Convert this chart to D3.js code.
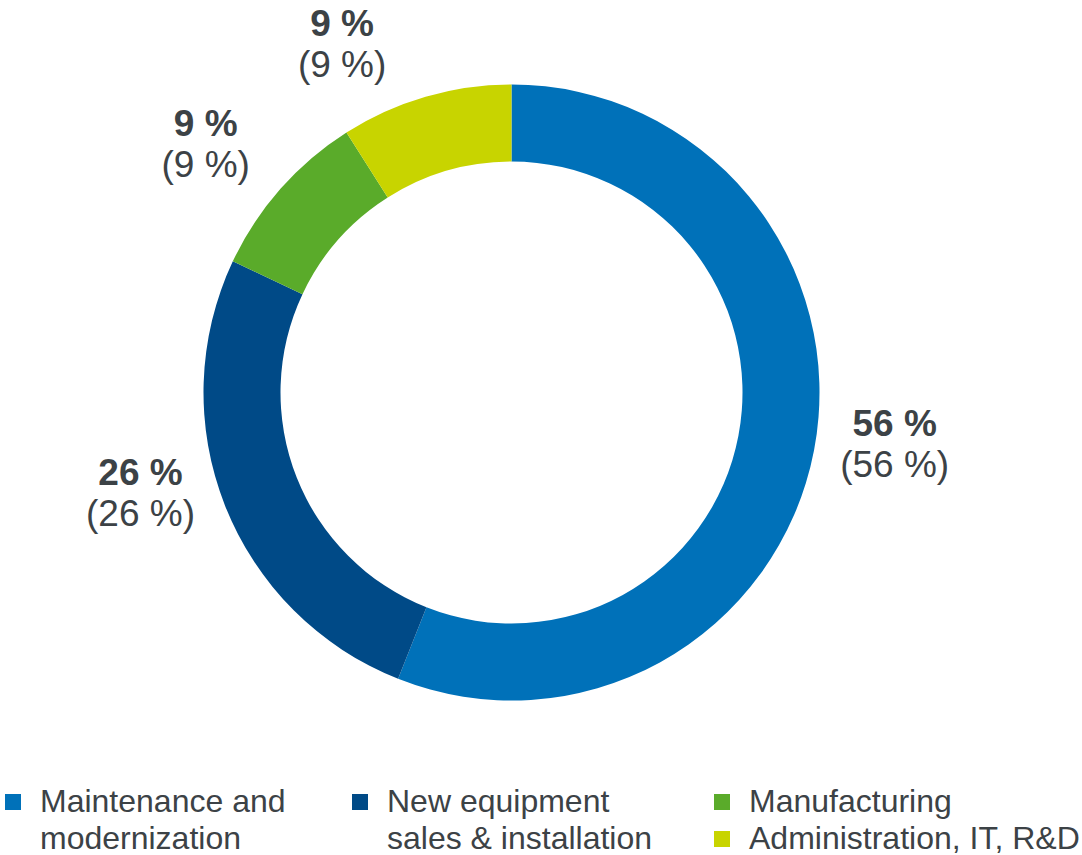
<!DOCTYPE html>
<html>
<head>
<meta charset="utf-8">
<script src="https://cdn.jsdelivr.net/npm/d3@7/dist/d3.min.js"></script>
<style>
  html, body { margin: 0; padding: 0; background: #fff; }
  svg { display: block; font-family: "Liberation Sans", Arial, sans-serif; }
</style>
</head>
<body>
<svg id="chart" width="1082" height="855"></svg>
<script>
// ---- data ----
const categories = ["Maintenance and modernization", "New equipment sales & installation", "Manufacturing", "Administration, IT, R&D"];
const values = [56, 26, 9, 9];
const previousValues = [56, 26, 9, 9];
const colors = ["#0071b9", "#004a87", "#5aab2a", "#c8d400"];
const legendLines = [["Maintenance and", "modernization"], ["New equipment", "sales & installation"], ["Manufacturing"], ["Administration, IT, R&D"]];

// ---- layout ----
const W = 1082, H = 855;
const cx = 511.5, cy = 392.5;
const outerR = 308, innerR = 231;
const textColor = "#3c4246";

const svg = d3.select("#chart");
const g = svg.append("g").attr("transform", `translate(${cx},${cy})`);

const pie = d3.pie().sort(null).value(d => d)(values);
const arc = d3.arc().innerRadius(innerR).outerRadius(outerR);

g.selectAll("path.slice")
  .data(pie)
  .join("path")
  .attr("class", "slice")
  .attr("d", arc)
  .attr("fill", (d, i) => colors[i]);

// labels: placed around the ring from slice mid-angle, with small layout nudges
const labelArc = d3.arc().innerRadius(385).outerRadius(385);
const nudges = [[5, -18], [-13, -38], [-17, 9], [-62, 24]];

const lab = g.selectAll("g.lab")
  .data(pie)
  .join("g")
  .attr("class", "lab")
  .attr("transform", (d, i) => {
    const c = labelArc.centroid(d);
    return `translate(${c[0] + nudges[i][0]},${c[1] + nudges[i][1]})`;
  });

lab.append("text")
  .attr("text-anchor", "middle")
  .attr("y", -11)
  .attr("font-size", 37)
  .attr("font-weight", "bold")
  .attr("fill", textColor)
  .text((d, i) => `${values[i]} %`);

lab.append("text")
  .attr("text-anchor", "middle")
  .attr("y", 30)
  .attr("font-size", 37)
  .attr("fill", textColor)
  .text((d, i) => `(${previousValues[i]} %)`);

// legend
const legendPos = [[5, 0], [352, 0], [714, 0], [714, 1]];
const lineH = 37, baseY = 812, fs = 32;
const leg = svg.selectAll("g.leg")
  .data(categories)
  .join("g")
  .attr("class", "leg")
  .attr("transform", (d, i) => `translate(${legendPos[i][0]},${baseY + legendPos[i][1] * lineH})`);

leg.append("rect")
  .attr("x", 0).attr("y", -18)
  .attr("width", 16).attr("height", 16)
  .attr("fill", (d, i) => colors[i]);

leg.each(function (d, i) {
  const t = d3.select(this).append("text")
    .attr("x", 35)
    .attr("font-size", fs)
    .attr("fill", textColor);
  legendLines[i].forEach((ln, k) => {
    t.append("tspan").attr("x", 35).attr("y", k * lineH).text(ln);
  });
});
</script>
</body>
</html>
